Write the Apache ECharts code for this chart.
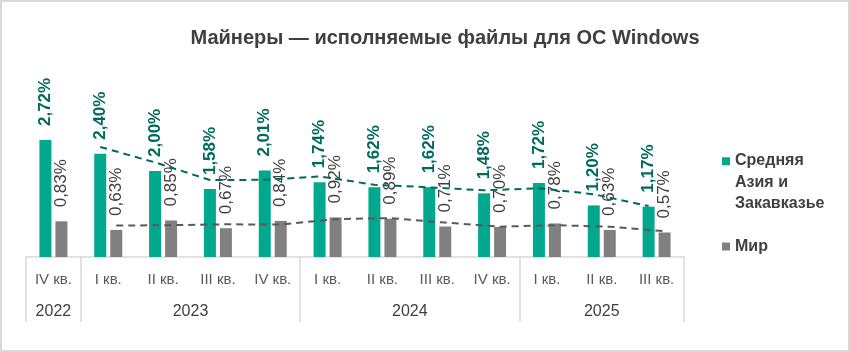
<!DOCTYPE html>
<html>
<head>
<meta charset="utf-8">
<script src="https://cdn.jsdelivr.net/npm/echarts@6/dist/echarts.min.js"></script>
<style>
  html, body { margin: 0; padding: 0; background: #fff; }
  #chart { width: 850px; height: 352px; }
</style>
</head>
<body>
<div id="chart"></div>
<script>
// data
const quarters = ["IV кв.", "I кв.", "II кв.", "III кв.", "IV кв.", "I кв.", "II кв.", "III кв.", "IV кв.", "I кв.", "II кв.", "III кв."];
const yearOfQuarter = ["2022", "2023", "2023", "2023", "2023", "2024", "2024", "2024", "2024", "2025", "2025", "2025"];
const regionName = "Средняя\nАзия и\nЗакавказье";
const worldName = "Мир";
const regionValues = [2.72, 2.40, 2.00, 1.58, 2.01, 1.74, 1.62, 1.62, 1.48, 1.72, 1.20, 1.17];
const worldValues = [0.83, 0.63, 0.85, 0.67, 0.84, 0.92, 0.89, 0.71, 0.70, 0.78, 0.63, 0.57];

const GRID = { left: 26, right: 166, top: 85, bottom: 95 };
const BAR_W = 12;
const BAR_GAP = 4;
const catWidth = (850 - GRID.left - GRID.right) / quarters.length;
const barShift = (BAR_W + BAR_GAP) / 2 / catWidth;

// year groups for the second label row
const yearGroups = [];
yearOfQuarter.forEach((y, i) => {
  const last = yearGroups[yearGroups.length - 1];
  if (last && last.name === y) last.end = i;
  else yearGroups.push({ name: y, start: i, end: i });
});
const groupStarts = yearGroups.map((g) => g.start);

// 2-period moving average trendline (like Excel)
const movingAvg = (values, shift) =>
  values.slice(1).map((v, k) => [k + 1 + 0.5 + shift, (v + values[k]) / 2]);

const pct = (v) => v.toFixed(2).replace(".", ",") + "%";

const myChart = echarts.init(document.getElementById("chart"));
myChart.setOption({
  animation: false,
  textStyle: { fontFamily: "Liberation Sans, Arial, sans-serif" },
  title: {
    text: "Майнеры — исполняемые файлы для ОС Windows",
    left: 440,
    textAlign: "center",
    top: 23,
    textStyle: { fontSize: 20, fontWeight: "bold", color: "#404040" },
  },
  legend: {
    orient: "vertical",
    left: 717,
    top: 145,
    itemWidth: 8,
    itemHeight: 50,
    itemGap: 7,
    selectedMode: false,
    textStyle: { fontSize: 16, fontWeight: "bold", color: "#404040", lineHeight: 21.5 },
    data: [
      { name: regionName, icon: "path://M0,0h8v8h-8z M0,50" },
      { name: worldName, icon: "path://M0,0 M0,50 M0,21h8v8h-8z" },
    ],
  },
  graphic: [
    {
      type: "rect",
      shape: { x: 1, y: 1, width: 848, height: 350 },
      style: { fill: "none", stroke: "#d9d9d9", lineWidth: 2 },
      silent: true,
    },
  ],
  grid: GRID,
  xAxis: [
    {
      type: "category",
      data: quarters,
      position: "bottom",
      axisLine: { lineStyle: { color: "#d9d9d9", width: 1.5 } },
      axisTick: {
        show: true,
        length: 65,
        interval: (i) => groupStarts.includes(i),
        lineStyle: { color: "#d9d9d9", width: 1.5 },
      },
      axisLabel: { interval: 0, color: "#595959", fontSize: 15, margin: 15 },
    },
    {
      type: "value",
      min: 0,
      max: quarters.length,
      interval: 0.5,
      position: "bottom",
      axisLine: { show: false },
      axisTick: { show: false },
      splitLine: { show: false },
      axisLabel: {
        margin: 47,
        fontSize: 16,
        color: "#404040",
        showMinLabel: true,
        showMaxLabel: true,
        formatter: (v) => {
          const g = yearGroups.find((g) => Math.abs((g.start + g.end + 1) / 2 - v) < 1e-6);
          return g ? g.name : "";
        },
      },
    },
  ],
  yAxis: { type: "value", min: 0, max: 4, show: false, splitLine: { show: false } },
  series: [
    {
      name: regionName,
      type: "bar",
      data: regionValues,
      barWidth: BAR_W,
      barGap: (BAR_GAP / BAR_W) * 100 + "%",
      itemStyle: { color: "#00a88e" },
      label: {
        show: true,
        position: "top",
        rotate: 90,
        align: "left",
        verticalAlign: "middle",
        distance: 14,
        color: "#006b5b",
        fontSize: 17,
        fontWeight: "bold",
        formatter: (p) => pct(p.value),
      },
    },
    {
      name: worldName,
      type: "bar",
      data: worldValues,
      barWidth: BAR_W,
      itemStyle: { color: "#808080" },
      label: {
        show: true,
        position: "top",
        rotate: 90,
        align: "left",
        verticalAlign: "middle",
        distance: 14,
        color: "#404040",
        fontSize: 17,
        formatter: (p) => pct(p.value),
      },
    },
    {
      name: "trendRegion",
      type: "line",
      xAxisIndex: 1,
      data: movingAvg(regionValues, -barShift),
      symbol: "none",
      silent: true,
      z: 5,
      lineStyle: { color: "#006b5b", width: 2, type: [7, 5] },
    },
    {
      name: "trendWorld",
      type: "line",
      xAxisIndex: 1,
      data: movingAvg(worldValues, barShift),
      symbol: "none",
      silent: true,
      z: 5,
      lineStyle: { color: "#595959", width: 2, type: [7, 5] },
    },
  ],
});
</script>
</body>
</html>
